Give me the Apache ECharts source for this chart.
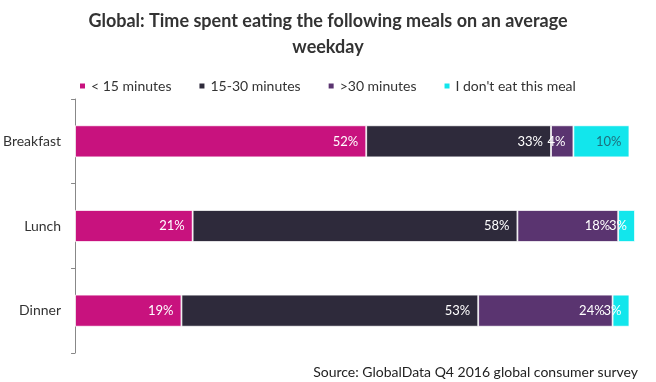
<!DOCTYPE html>
<html><head><meta charset="utf-8">
<script src="https://cdn.jsdelivr.net/npm/echarts@6/dist/echarts.min.js"></script>
<style>html,body{margin:0;padding:0;background:#fff}#c{width:656px;height:382px}</style>
</head><body><div id="c"></div>
<script>
var categories = ['Breakfast', 'Lunch', 'Dinner'];
var seriesNames = ['< 15 minutes', '15-30 minutes', '>30 minutes', "I don't eat this meal"];
var under15 = [52, 21, 19];
var from15to30 = [33, 58, 53];
var over30 = [4, 18, 24];
var dontEat = [10, 3, 3];
var titleText = 'Global: Time spent eating the following meals on an average\nweekday';
var sourceText = 'Source: GlobalData Q4 2016 global consumer survey';

var colors = ['#C8127E', '#2E2A3B', '#5A3470', '#12E6EC'];
var FONT = 'Lato';
var values = [under15, from15to30, over30, dontEat];

var chart = echarts.init(document.getElementById('c'), null, {renderer: 'canvas'});
var series = values.map(function (arr, i) {
  return {
    name: seriesNames[i],
    type: 'bar',
    stack: 'total',
    barWidth: 32,
    itemStyle: {color: colors[i], borderColor: '#fff', borderWidth: 0.8},
    label: {
      show: true, position: 'insideRight', distance: 8,
      fontFamily: FONT, fontSize: 13,
      color: '#fff',
      formatter: '{c}%'
    },
    data: arr.map(function (v) {
      var d = {value: v};
      if (i === 3 && v >= 5) d.label = {color: '#1E6F7E'};
      return d;
    })
  };
});
chart.setOption({
  animation: false,
  color: colors,
  title: {
    text: titleText, left: 'center', top: 3,
    textStyle: {fontFamily: FONT, fontSize: 18, fontWeight: 'bold', color: '#333', lineHeight: 26}
  },
  legend: {
    left: 73, top: 74, itemWidth: 7, itemHeight: 7, itemGap: 26, icon: 'rect',
    textStyle: {fontFamily: FONT, fontSize: 14, color: '#333'},
    data: seriesNames
  },
  graphic: [{
    type: 'text', right: 18, top: 365,
    style: {text: sourceText, fontFamily: FONT, fontSize: 14, fill: '#222'}
  }],
  grid: {left: 75, top: 99, right: 21, bottom: 29, containLabel: false},
  xAxis: {type: 'value', min: 0, max: 100, show: false},
  yAxis: {
    type: 'category', data: categories, inverse: true,
    axisLine: {lineStyle: {color: '#888'}},
    axisTick: {show: true, length: 4, inside: false, lineStyle: {color: '#888'}},
    axisLabel: {fontFamily: FONT, fontSize: 14, color: '#333', margin: 14},
    splitLine: {show: false}
  },
  series: series
});
</script></body></html>
